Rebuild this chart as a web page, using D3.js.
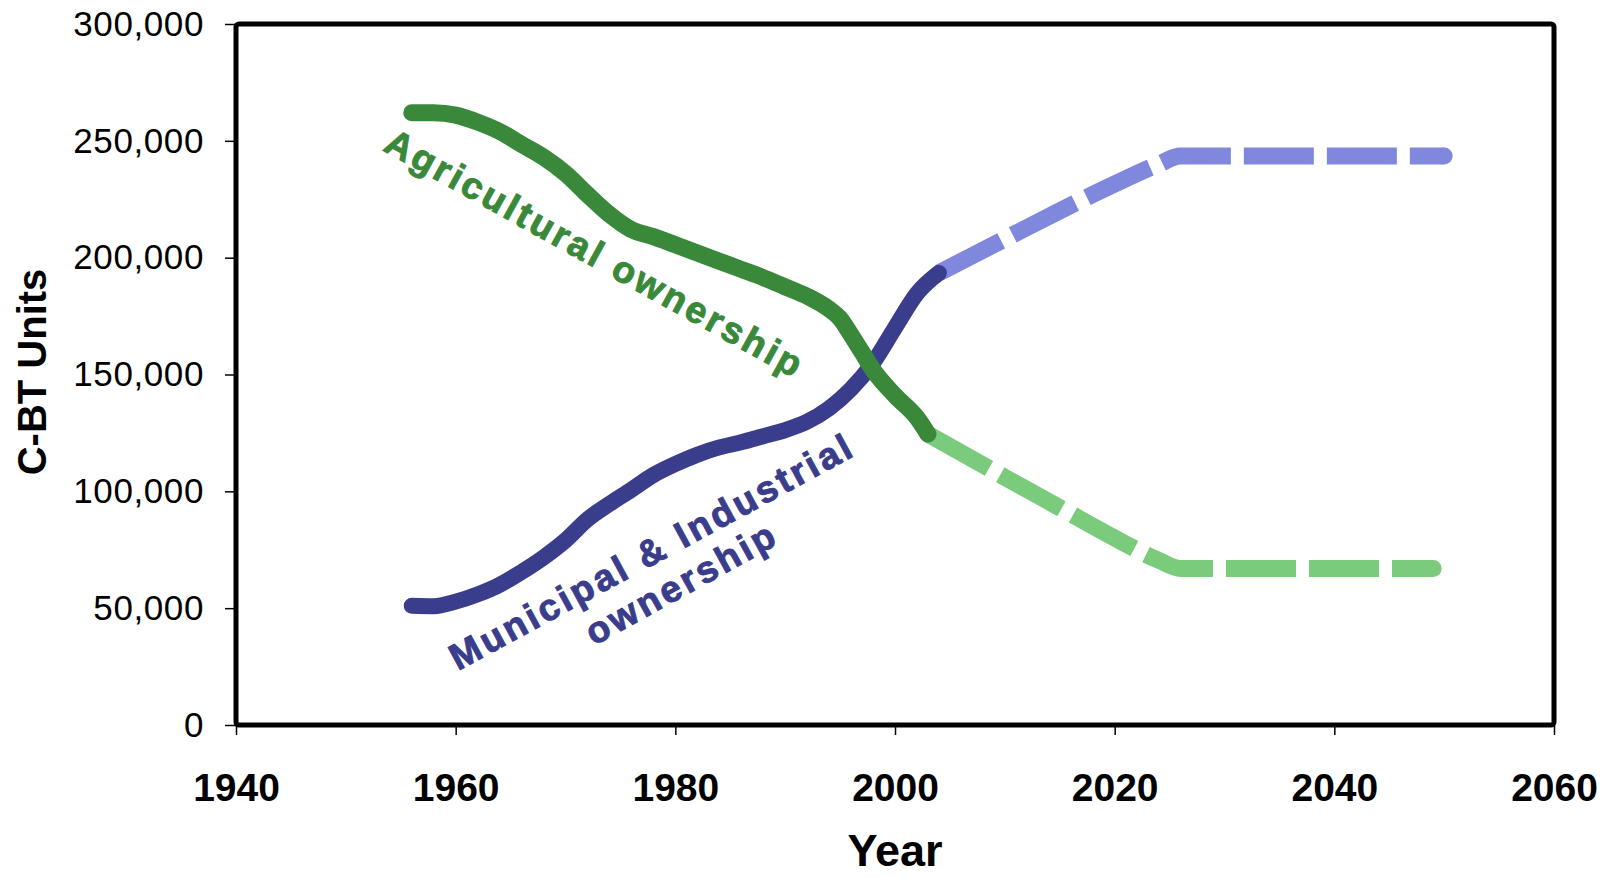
<!DOCTYPE html>
<html>
<head>
<meta charset="utf-8">
<script src="https://cdnjs.cloudflare.com/ajax/libs/d3/7.8.5/d3.min.js"></script>
<style>
  body { margin: 0; background: #fff; }
  svg text { font-family: "Liberation Sans", Arial, sans-serif; }
</style>
</head>
<body>
<script>

// x and y ticks
var xTicks = [1940, 1960, 1980, 2000, 2020, 2040, 2060];
var yTicks = [0, 50000, 100000, 150000, 200000, 250000, 300000];

// agricultural ownership, historic (solid)
var agYears = [1956, 1958, 1960, 1962, 1964, 1966, 1968, 1970, 1972, 1974, 1976, 1978, 1980, 1982, 1984, 1986, 1988, 1990, 1992, 1994, 1995, 1996, 1997, 1998, 2000, 2002, 2003];
var agValues = [262000, 262000, 261000, 258000, 254000, 248500, 243000, 236000, 227000, 218500, 212000, 209000, 205500, 202000, 198500, 195000, 191500, 187500, 183500, 178000, 174000, 167000, 159500, 152000, 141000, 131500, 124500];

// agricultural ownership, projected (dashed)
var agProjYears = [2003, 2010, 2015, 2020, 2024, 2026, 2049];
var agProjValues = [124500, 106000, 93000, 80000, 70500, 67000, 67000];

// municipal & industrial ownership, historic (solid)
var miYears = [1956, 1958, 1960, 1962, 1964, 1966, 1968, 1970, 1972, 1974, 1976, 1978, 1980, 1982, 1984, 1986, 1988, 1990, 1992, 1994, 1996, 1998, 2000, 2002, 2004];
var miValues = [51000, 50800, 52800, 55900, 60000, 65500, 71700, 79000, 88000, 94600, 100700, 107000, 111700, 115700, 118800, 121000, 123600, 126200, 129800, 135500, 143800, 155000, 170000, 184700, 193500];

// municipal & industrial ownership, projected (dashed)
var miProjYears = [2004, 2010, 2015, 2020, 2024, 2026, 2050];
var miProjValues = [193500, 208000, 220000, 231500, 240000, 243500, 243500];

window.onload = function() {
    drawChart();
};

function zip(xs, ys) {
    return xs.map(function(x, i) { return [x, ys[i]]; });
}

function drawChart() {

    var w = 1612;
    var h = 878;
    var margin = {top: 24, right: 58, bottom: 153, left: 236};

    var svg = d3.select("body")
                .append("svg")
                .attr("width", w)
                .attr("height", h);

    var xScale = d3.scaleLinear()
                   .domain([1940, 2060])
                   .range([margin.left, w - margin.right]);

    var yScale = d3.scaleLinear()
                   .domain([0, 300000])
                   .range([h - margin.bottom, margin.top]);

    var xAxis = d3.axisBottom(xScale)
                  .tickValues(xTicks)
                  .tickFormat(d3.format("d"))
                  .tickSize(10)
                  .tickPadding(38);

    var yAxis = d3.axisLeft(yScale)
                  .tickValues(yTicks)
                  .tickFormat(d3.format(","))
                  .tickSize(11)
                  .tickPadding(21);

    var gx = svg.append("g")
        .attr("transform", "translate(0," + (h - margin.bottom) + ")")
        .call(xAxis);
    gx.select(".domain").remove();
    gx.selectAll("line").attr("stroke", "#000").attr("stroke-width", 1.5);
    gx.selectAll("text")
      .style("font-size", "39px")
      .style("font-weight", "bold")
      .attr("fill", "#000");

    var gy = svg.append("g")
        .attr("transform", "translate(" + margin.left + ",0)")
        .call(yAxis);
    gy.select(".domain").remove();
    gy.selectAll("line").attr("stroke", "#000").attr("stroke-width", 1.5);
    gy.selectAll("text")
      .style("font-size", "35px")
      .style("letter-spacing", "0.6px")
      .attr("fill", "#000");

    // frame round the plot area
    svg.append("rect")
       .attr("x", xScale(1940))
       .attr("y", yScale(300000))
       .attr("width", xScale(2060) - xScale(1940))
       .attr("height", yScale(0) - yScale(300000))
       .attr("rx", 3)
       .attr("fill", "none")
       .attr("stroke", "#000")
       .attr("stroke-width", 5);

    var line = d3.line()
                 .x(function(d) { return xScale(d[0]); })
                 .y(function(d) { return yScale(d[1]); })
                 .curve(d3.curveMonotoneX);

    // projected lines (dashed), with a rounded last dash
    var proj = [
        {years: agProjYears, values: agProjValues, color: "#7acb7c"},
        {years: miProjYears, values: miProjValues, color: "#8088dd"}
    ];
    proj.forEach(function(p) {
        svg.append("path")
           .attr("d", line(zip(p.years, p.values)))
           .attr("fill", "none")
           .attr("stroke", p.color)
           .attr("stroke-width", 17)
           .attr("stroke-dasharray", "70,13");
        var n = p.years.length - 1;
        svg.append("circle")
           .attr("cx", xScale(p.years[n]))
           .attr("cy", yScale(p.values[n]))
           .attr("r", 8.5)
           .attr("fill", p.color);
    });

    // historic lines (solid)
    svg.append("path")
       .attr("d", line(zip(miYears, miValues)))
       .attr("fill", "none")
       .attr("stroke", "#3a3d8c")
       .attr("stroke-width", 16)
       .attr("stroke-linecap", "round");

    svg.append("path")
       .attr("d", line(zip(agYears, agValues)))
       .attr("fill", "none")
       .attr("stroke", "#3a893a")
       .attr("stroke-width", 17)
       .attr("stroke-linecap", "round");

    // labels along the curves
    function curveLabel(txt, x, y, angle, color) {
        svg.append("text")
           .attr("transform", "translate(" + x + "," + y + ") rotate(" + angle + ")")
           .style("font-size", "37px")
           .style("font-weight", "bold")
           .style("letter-spacing", "3.2px")
           .attr("fill", color)
           .attr("stroke", color)
           .attr("stroke-width", 1)
           .text(txt);
    }
    curveLabel("Agricultural ownership", 382, 150, 29, "#3a893a");
    curveLabel("Municipal & Industrial", 458, 671, -28.5, "#3a3d8c");
    curveLabel("ownership", 594, 646, -29, "#3a3d8c");

    // axis titles
    svg.append("text")
       .attr("x", xScale(2000))
       .attr("y", 866)
       .style("text-anchor", "middle")
       .style("font-size", "45px")
       .style("font-weight", "bold")
       .text("Year");

    svg.append("text")
       .attr("transform", "rotate(-90)")
       .attr("x", 0 - 372)
       .attr("y", 46)
       .style("text-anchor", "middle")
       .style("font-size", "40px")
       .style("font-weight", "bold")
       .text("C-BT Units");
}
</script>
</body>
</html>
